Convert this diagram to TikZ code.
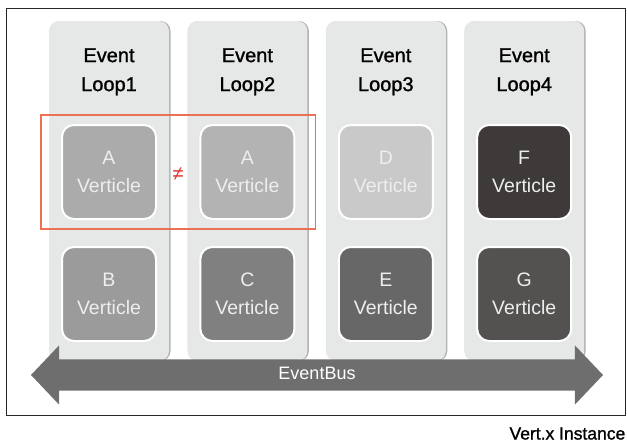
\documentclass[tikz,border=0pt]{standalone}
\usepackage{fontspec}
\setmainfont{Liberation Sans}
\newfontfamily\medfont{Liberation Sans}[FakeBold=1.2]
\usetikzlibrary{shapes,arrows,fit,positioning,shadows}
\definecolor{loopgray}{HTML}{E6E7E7}
\definecolor{vA}{HTML}{ABABAB}
\definecolor{vAA}{HTML}{B3B3B3}
\definecolor{vB}{HTML}{9B9B9B}
\definecolor{vC}{HTML}{808080}
\definecolor{vD}{HTML}{C9C9C9}
\definecolor{vE}{HTML}{676767}
\definecolor{vF}{HTML}{3E3A39}
\definecolor{vG}{HTML}{545251}
\definecolor{vtext}{HTML}{EEEEEE}
\definecolor{samered}{HTML}{EB7152}
\definecolor{neqred}{HTML}{E4312A}
\definecolor{busgray}{HTML}{6E6E6E}
\def\Vert{Verticle}

\begin{document}
\begin{tikzpicture}[x=1pt,y=-1pt,% pixel-like coordinates, y goes down
				loop/.style={
					rectangle,rounded corners=10pt,fill=loopgray,
					minimum width=120pt,minimum height=340pt,	% one column per event loop
					drop shadow={shadow xshift=1.5pt,shadow yshift=0pt,fill=black!30,opacity=1}
				},
				title/.style={align=center,font=\medfont\fontsize{20}{29}\selectfont},
				verticle/.style={
					rectangle,rounded corners=12pt,draw=white,line width=2pt,
					minimum size=94pt,align=center,text=vtext,
					font=\fontsize{19.5}{28}\selectfont
				},
				node distance=18pt
			]
			\useasboundingbox (0,0) rectangle (627,442);
			\node[rectangle,draw=black!85,line width=1pt,minimum width=619pt,minimum height=407pt](frame) at (315.5,211.5){};
			% event loops
			\node[loop](L1) at (109,191){};
			\node[loop](L2)[right= of L1]{};
			\node[loop](L3)[right= of L2]{};
			\node[loop](L4)[right= of L3]{};
			\node[title](T1) at ([yshift=-51pt]L1.north){Event\\Loop1};
			\node[title](T2) at ([yshift=-51pt]L2.north){Event\\Loop2};
			\node[title](T3) at ([yshift=-51pt]L3.north){Event\\Loop3};
			\node[title](T4) at ([yshift=-51pt]L4.north){Event\\Loop4};
			% verticles
			\node[verticle,fill=vA](A1) at (109,172){A\\\Vert};
			\node[verticle,fill=vAA](A2) at (L2 |- A1){A\\\Vert};
			\node[verticle,fill=vD](D) at (L3 |- A1){D\\\Vert};
			\node[verticle,fill=vF](F) at (L4 |- A1){F\\\Vert};
			\node[verticle,fill=vB](B)[below=26pt of A1]{B\\\Vert};
			\node[verticle,fill=vC](C) at (L2 |- B){C\\\Vert};
			\node[verticle,fill=vE](E) at (L3 |- B){E\\\Vert};
			\node[verticle,fill=vG](G) at (L4 |- B){G\\\Vert};
			\node[rectangle,draw=samered,line width=1.5pt,fit=(A1)(A2),inner xsep=20pt,inner ysep=9pt](same){};
			\path
			(A1) -- node[text=neqred,font=\fontsize{20}{20}\selectfont,inner sep=0pt,yshift=-2pt](neq){≠} (A2)
			;
			% event bus
			\node[double arrow,fill=busgray,text=white,font=\fontsize{18}{20}\selectfont,
				minimum height=572pt,text height=13pt,text depth=4pt,inner ysep=7pt,
				double arrow head extend=14pt,double arrow tip angle=93](bus) at (317,375){EventBus};
			\node[anchor=base east,inner sep=0pt,font=\medfont\fontsize{17.5}{20}\selectfont](inst) at ([yshift=-24pt]frame.south east){Vert.x Instance};
		\end{tikzpicture}
\end{document}
